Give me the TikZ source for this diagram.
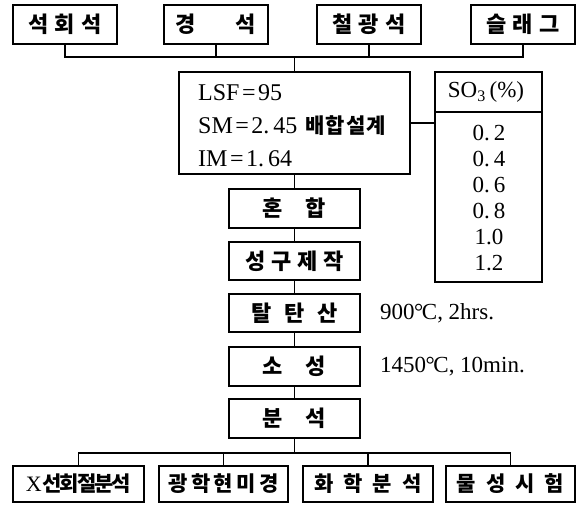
\documentclass[tikz,border=0pt]{standalone}
\usepackage{fontspec}
\usepackage{graphicx}
\setmainfont{Liberation Serif}
\newfontfamily\kr{Noto Sans CJK KR}
\newcommand\krf[1]{\fontsize{#1}{#1}\selectfont\kr\bfseries}
\newcommand\kg[1]{\hspace{#1pt}}
\newcommand\eqs{\kern2.5pt=\kern2.5pt}
\tikzset{
  box/.style={draw, line width=1.1pt, inner sep=0pt, minimum height=39pt},
  topbox/.style={box, minimum width=104pt},
  chainbox/.style={box, minimum width=131pt},
  botbox/.style={box, minimum height=36pt},
  conn/.style={line width=1.1pt},
  note/.style={anchor=west, inner sep=0pt, font=\fontsize{23}{23}\selectfont},
  lsfline/.style={anchor=base west, inner sep=0pt, font=\fontsize{24}{24}\selectfont}
}
\begin{document}
\begin{tikzpicture}[x=1pt, y={(0pt,-1pt)}]
\useasboundingbox (0,0) rectangle (579,504);
% top row
\node[topbox] (b1) at (65,24.5) {\krf{22}석\kg{6}회\kg{6}석};
\node[topbox] (b2) at (216,24.5) {\krf{22}경\kg{40}석};
\node[topbox] (b3) at (369,24.5) {\krf{22}철\kg{6}광\kg{6}석};
\node[topbox] (b4) at (523,24.5) {\krf{22}슬\kg{6}래\kg{6}그};
% design box
\node[draw, line width=1.1pt, inner sep=0pt, minimum width=231pt, minimum height=102pt] (lsf) at (294.5,123) {};
\node[lsfline] (l1) at (198,100) {LSF\eqs95};
\node[lsfline] (l2) at (198,133) {SM\eqs2.\kern4pt45\kern8pt{\krf{21}배\kg{1}합\kg{1}설\kg{1}계}};
\node[lsfline] (l3) at (198,166) {IM\eqs1.\kern4pt64};
% SO3 box
\node[draw, line width=1.1pt, inner sep=0pt, minimum width=107pt, minimum height=210pt] (so3) at (488.5,177) {};
\coordinate (divl) at (435,112);
\coordinate (divr) at (542,112);
\draw[conn] (divl) -- (divr);
\node[inner sep=0pt, font=\fontsize{23}{23}\selectfont] (so3h) at (486,92) {SO\textsubscript{3}\,(\%)};
\node[inner sep=0pt, align=center, font=\fontsize{23}{26}\selectfont] (so3v) at (489,198)
  {0.\kern4pt2\\0.\kern4pt4\\0.\kern4pt6\\0.\kern4pt8\\1.0\\1.2};
% chain
\node[chainbox] (mix) at (294.5,208.5) {\krf{22}혼\kg{23}합};
\node[chainbox, minimum height=38pt] (mold) at (294.5,261) {\krf{22}성\kg{6}구\kg{6}제\kg{6}작};
\node[chainbox, minimum height=38pt] (decarb) at (294.5,313) {\krf{22}탈\kg{12.5}탄\kg{12.5}산};
\node[chainbox] (fire) at (294.5,366.5) {\krf{22}소\kg{23}성};
\node[chainbox] (ana) at (294.5,418.5) {\krf{22}분\kg{23}석};
\node[note] (n1) at (380,313) {900\kern-0.5pt°\kern-1.5ptC, 2hrs.};
\node[note] (n2) at (380,366.5) {1450\kern-0.5pt°\kern-1.5ptC, 10min.};
% bottom row
\node[botbox, minimum width=131pt] (c1) at (78.5,484) {\fontsize{22}{22}\selectfont X\kern1pt{\krf{21}선\kg{-2}회\kg{-2}절\kg{-2}분\kg{-2}석}};
\node[botbox, minimum width=129pt] (c2) at (223.5,484) {\krf{21}광\kg{3.5}학\kg{3.5}현\kg{3.5}미\kg{3.5}경};
\node[botbox, minimum width=130pt] (c3) at (368,484) {\krf{21}화\kg{10}학\kg{10}분\kg{10}석};
\node[botbox, minimum width=129pt] (c4) at (510.5,484) {\krf{21}물\kg{10}성\kg{10}시\kg{10}험};
% connectors top
\coordinate (bus) at (294.5,57);
\draw[conn] (b1.south) |- (bus);
\draw[conn] (b4.south) |- (bus);
\draw[conn] (b2.south) |- (bus);
\draw[conn] (b3.south) |- (bus);
\draw[conn] (bus) -- (lsf.north);
\draw[conn] (lsf.east) -- (so3.west |- lsf.east);
% chain connectors
\draw[conn] (lsf.south) -- (mix.north);
\draw[conn] (mix.south) -- (mold.north);
\draw[conn] (mold.south) -- (decarb.north);
\draw[conn] (decarb.south) -- (fire.north);
\draw[conn] (fire.south) -- (ana.north);
% bottom connectors
\coordinate (bbus) at (294.5,453);
\draw[conn] (ana.south) -- (bbus);
\draw[conn] (c1.north) |- (bbus);
\draw[conn] (c2.north) |- (bbus);
\draw[conn] (c3.north) |- (bbus);
\draw[conn] (c4.north) |- (bbus);
\end{tikzpicture}
\end{document}
